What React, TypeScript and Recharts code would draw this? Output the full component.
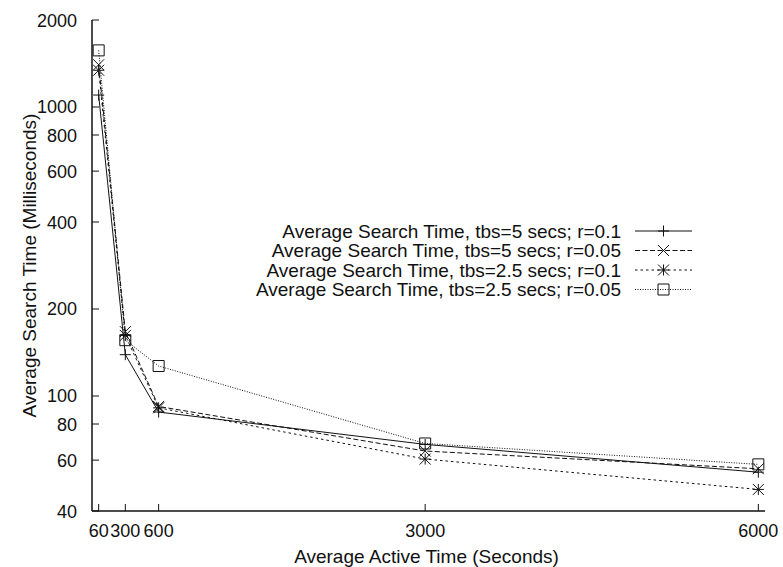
import { LineChart, Line, XAxis, YAxis, Legend } from 'recharts';

const activeTimes = [60, 300, 600, 3000, 6000];
const tbs5r01 = [1100, 139, 88, 68, 54.5];
const tbs5r005 = [1400, 167, 92, 64.5, 56];
const tbs25r01 = [1340, 162, 91, 60.5, 47.5];
const tbs25r005 = [1570, 156, 127, 68.5, 58];

const xTicks = [60, 300, 600, 3000, 6000];
const yTicks = [40, 60, 80, 100, 200, 400, 600, 800, 1000, 2000];

const seriesNames = [
  'Average Search Time, tbs=5 secs; r=0.1',
  'Average Search Time, tbs=5 secs; r=0.05',
  'Average Search Time, tbs=2.5 secs; r=0.1',
  'Average Search Time, tbs=2.5 secs; r=0.05',
];

const data = activeTimes.map((t, i) => ({
  t,
  a: tbs5r01[i],
  b: tbs5r005[i],
  c: tbs25r01[i],
  d: tbs25r005[i],
}));

const FONT = '"Liberation Sans", Arial, Helvetica, sans-serif';
const INK = '#111';
const TICK = 7;

type Shape = 'plus' | 'cross' | 'star' | 'square';

function Marker({ cx, cy, shape }: { cx: number; cy: number; shape: Shape }) {
  const r = 5.5;
  const plus = `M${cx - r},${cy}H${cx + r}M${cx},${cy - r}V${cy + r}`;
  const cross = `M${cx - r},${cy - r}L${cx + r},${cy + r}M${cx - r},${cy + r}L${cx + r},${cy - r}`;
  let d = '';
  if (shape === 'plus') d = plus;
  else if (shape === 'cross') d = cross;
  else if (shape === 'star') d = plus + cross;
  else d = `M${cx - r},${cy - r}H${cx + r}V${cy + r}H${cx - r}Z`;
  return <path d={d} fill="none" stroke={INK} strokeWidth={1} />;
}

const series = [
  { key: 'a', name: seriesNames[0], shape: 'plus' as Shape, dash: undefined },
  { key: 'b', name: seriesNames[1], shape: 'cross' as Shape, dash: '5 2.5' },
  { key: 'c', name: seriesNames[2], shape: 'star' as Shape, dash: '2.5 3' },
  { key: 'd', name: seriesNames[3], shape: 'square' as Shape, dash: '1 1.5' },
];

const BottomTick = (props: any) => {
  const { x, y, payload } = props;
  return (
    <g>
      <line x1={x} y1={y} x2={x} y2={y - TICK} stroke={INK} />
      <text x={x} y={y + 26} textAnchor="middle" fontSize={18} fontFamily={FONT} fill={INK}>
        {payload.value}
      </text>
    </g>
  );
};

const TopTick = (props: any) => {
  const { x, y } = props;
  return <line x1={x} y1={y} x2={x} y2={y + TICK} stroke={INK} />;
};

const LeftTick = (props: any) => {
  const { x, y, payload } = props;
  return (
    <g>
      <line x1={x} y1={y} x2={x + TICK} y2={y} stroke={INK} />
      <text x={x - 15} y={y + 6.5} textAnchor="end" fontSize={18} fontFamily={FONT} fill={INK}>
        {payload.value}
      </text>
    </g>
  );
};

const RightTick = (props: any) => {
  const { x, y } = props;
  return <line x1={x} y1={y} x2={x - TICK} y2={y} stroke={INK} />;
};

const LegendBox = () => (
  <svg width={783} height={567} style={{ overflow: 'visible' }}>
    {series.map((s, i) => {
      const cy = 231 + i * 19.5;
      return (
        <g key={s.key}>
          <text x={621} y={cy + 6.5} textAnchor="end" fontSize={19} fontFamily={FONT} fill={INK}>
            {s.name}
          </text>
          <line x1={635} x2={692} y1={cy} y2={cy} stroke={INK} strokeDasharray={s.dash} />
          <Marker cx={663.5} cy={cy} shape={s.shape} />
        </g>
      );
    })}
  </svg>
);

export default function App() {
  return (
    <div style={{ position: 'absolute', left: 0, top: 0, background: '#fff' }}>
      <LineChart width={783} height={567} data={data} margin={{ top: 20, right: 18, left: 0, bottom: 0 }}>
        <XAxis
          dataKey="t"
          type="number"
          domain={[0, 6060]}
          ticks={xTicks}
          allowDataOverflow
          height={56}
          tickSize={0}
          tickMargin={0}
          tickLine={false}
          axisLine={{ stroke: INK, strokeWidth: 1.5 }}
          tick={<BottomTick />}
          interval={0}
          label={{
            content: (p: any) => {
              const vb = p.viewBox;
              return (
                <text x={vb.x + vb.width / 2 - 2} y={vb.y + 52} textAnchor="middle" fontSize={19} fontFamily={FONT} fill={INK}>
                  Average Active Time (Seconds)
                </text>
              );
            },
          }}
        />
        <XAxis
          xAxisId="top"
          orientation="top"
          type="number"
          domain={[0, 6060]}
          ticks={xTicks}
          allowDataOverflow
          height={0}
          tickSize={0}
          tickMargin={0}
          tickLine={false}
          axisLine={{ stroke: INK, strokeWidth: 1.5 }}
          tick={<TopTick />}
          interval={0}
        />
        <YAxis
          type="number"
          scale="log"
          domain={[40, 2000]}
          ticks={yTicks}
          allowDataOverflow
          width={92}
          tickSize={0}
          tickMargin={0}
          tickLine={false}
          axisLine={{ stroke: INK, strokeWidth: 1.5 }}
          tick={<LeftTick />}
          interval={0}
          label={{
            content: (p: any) => {
              const vb = p.viewBox;
              const cy = vb.y + vb.height / 2;
              return (
                <text
                  x={36}
                  y={cy}
                  transform={`rotate(-90, 36, ${cy})`}
                  textAnchor="middle"
                  fontSize={19}
                  fontFamily={FONT}
                  fill={INK}
                >
                  Average Search Time (Milliseconds)
                </text>
              );
            },
          }}
        />
        <YAxis
          yAxisId="right"
          orientation="right"
          type="number"
          scale="log"
          domain={[40, 2000]}
          ticks={yTicks}
          allowDataOverflow
          width={0}
          tickSize={0}
          tickMargin={0}
          tickLine={false}
          axisLine={{ stroke: INK, strokeWidth: 1.5 }}
          tick={<RightTick />}
          interval={0}
        />
        <Legend
          layout="vertical"
          align="center"
          verticalAlign="middle"
          wrapperStyle={{ left: 0, top: 0, width: 783, height: 567, pointerEvents: 'none' }}
          content={() => <LegendBox />}
        />
        {series.map((s) => (
          <Line
            key={s.key}
            dataKey={s.key}
            name={s.name}
            stroke={INK}
            strokeWidth={1}
            strokeDasharray={s.dash}
            isAnimationActive={false}
            dot={(p: any) => <Marker key={`${s.key}-${p.index}`} cx={p.cx} cy={p.cy} shape={s.shape} />}
            activeDot={false}
          />
        ))}
      </LineChart>
    </div>
  );
}
